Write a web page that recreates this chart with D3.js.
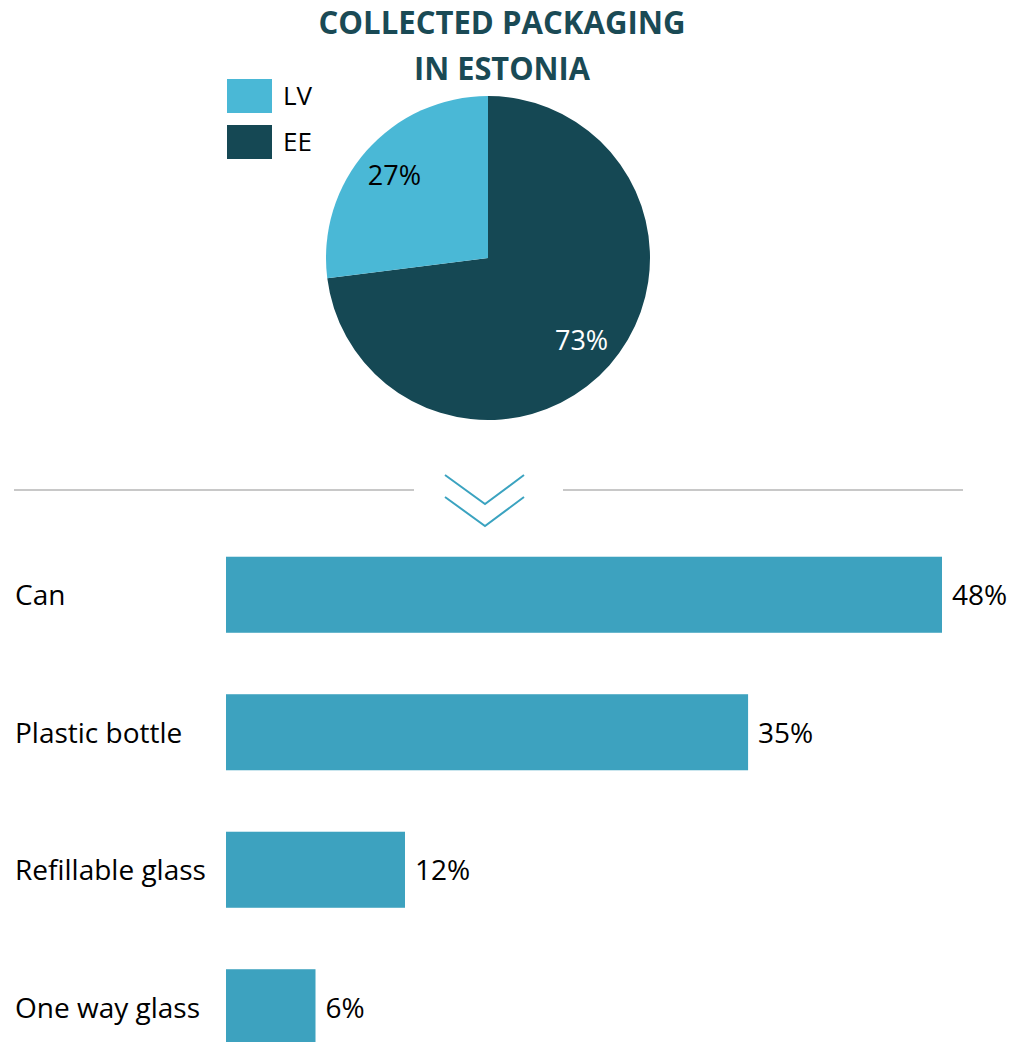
<!DOCTYPE html>
<html><head><meta charset="utf-8">
<script src="https://cdn.jsdelivr.net/npm/d3@7"></script>
<style>body{margin:0;background:#fff;} svg{display:block;font-family:"Open Sans",Lato,sans-serif;}</style>
</head><body>
<svg id="c" width="1011" height="1042"></svg>
<script>
const pieLabels = ["EE", "LV"];
const pieValues = [73, 27];
const legendOrder = ["LV", "EE"];
const categories = ["Can", "Plastic bottle", "Refillable glass", "One way glass"];
const barValues = [48, 35, 12, 6];

const colors = {EE: "#154854", LV: "#4ab8d6"};
const svg = d3.select("#c");

// Title
svg.append("text").attr("x", 502).attr("y", 34).attr("text-anchor", "middle")
  .attr("font-size", 32).attr("font-weight", 700).attr("fill", "#1a4a55")
  .attr("textLength", 367).attr("lengthAdjust", "spacingAndGlyphs").text("COLLECTED PACKAGING");
svg.append("text").attr("x", 502).attr("y", 80).attr("text-anchor", "middle")
  .attr("font-size", 32).attr("font-weight", 700).attr("fill", "#1a4a55")
  .attr("textLength", 176).attr("lengthAdjust", "spacingAndGlyphs").text("IN ESTONIA");

// Pie
const cx = 488, cy = 258, r = 162;
const pie = d3.pie().sort(null).value(d => d.v);
const arcs = pie(pieLabels.map((l, i) => ({l, v: pieValues[i]})));
const arc = d3.arc().innerRadius(0).outerRadius(r);
const g = svg.append("g").attr("transform", `translate(${cx},${cy})`);
g.selectAll("path").data(arcs).join("path").attr("d", arc).attr("fill", d => colors[d.data.l]);
const labArc = d3.arc().innerRadius(r * 0.77).outerRadius(r * 0.77);
g.selectAll("text").data(arcs).join("text")
  .attr("transform", d => `translate(${labArc.centroid(d)})`)
  .attr("text-anchor", "middle").attr("dy", "0.36em").attr("font-size", 27)
  .attr("fill", d => d.data.l === "EE" ? "#fff" : "#000")
  .text(d => d.data.v + "%");

// Legend
legendOrder.forEach((l, i) => {
  svg.append("rect").attr("x", 227).attr("y", 79 + i * 46).attr("width", 45).attr("height", 34).attr("fill", colors[l]);
  svg.append("text").attr("x", 283).attr("y", 96 + i * 46).attr("dy", "0.36em").attr("font-size", 26).attr("fill", "#000").text(l);
});

// Divider
svg.append("line").attr("x1", 14).attr("x2", 414).attr("y1", 490).attr("y2", 490).attr("stroke", "#c8c8c8").attr("stroke-width", 2);
svg.append("line").attr("x1", 563).attr("x2", 963).attr("y1", 490).attr("y2", 490).attr("stroke", "#c8c8c8").attr("stroke-width", 2);
[475, 497].forEach(y0 => {
  svg.append("path").attr("d", `M445,${y0}L485,${y0 + 29}L524,${y0}`).attr("fill", "none").attr("stroke", "#3ba3c0").attr("stroke-width", 2);
});

// Bars
const x = d3.scaleLinear().domain([0, 48]).range([226, 942]);
const y = d3.scaleBand().domain(categories).range([526, 1076]).paddingInner(0.447).paddingOuter(0.2235);
const bars = svg.append("g");
bars.selectAll("rect").data(categories).join("rect")
  .attr("x", x(0)).attr("y", d => y(d)).attr("width", (d, i) => x(barValues[i]) - x(0))
  .attr("height", y.bandwidth()).attr("fill", "#3da2bf");
bars.selectAll("text.cat").data(categories).join("text").attr("class", "cat")
  .attr("x", 15).attr("y", d => y(d) + y.bandwidth() / 2).attr("dy", "0.37em")
  .attr("font-size", 28).attr("fill", "#000").text(d => d);
bars.selectAll("text.val").data(categories).join("text").attr("class", "val")
  .attr("x", (d, i) => x(barValues[i]) + 10).attr("y", d => y(d) + y.bandwidth() / 2).attr("dy", "0.37em")
  .attr("font-size", 28).attr("fill", "#000").text((d, i) => barValues[i] + "%");
</script>
</body></html>
